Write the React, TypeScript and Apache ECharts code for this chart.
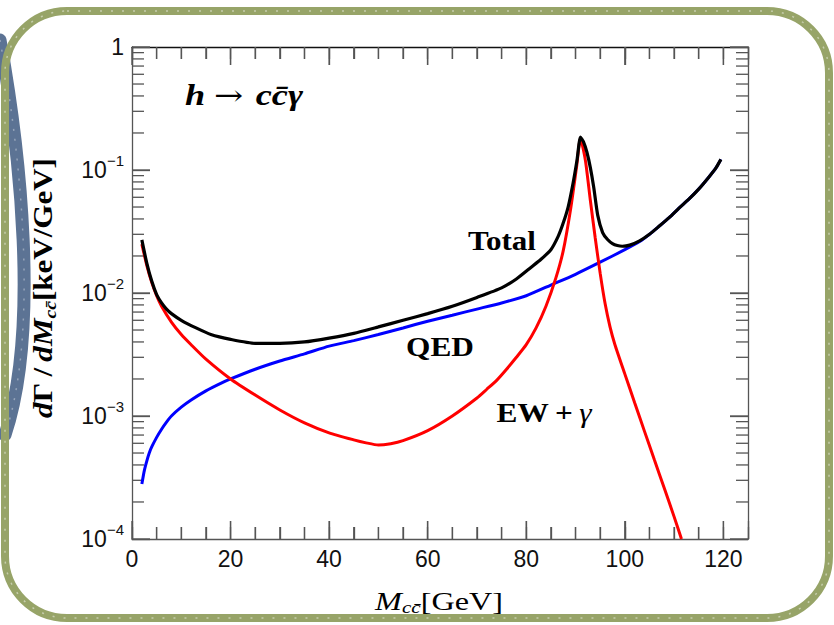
import React, { useEffect, useRef } from 'react';
import * as echarts from 'echarts';

const X_MIN = 0;
const X_MAX = 125;
const Y_MIN = 1e-4;
const Y_MAX = 1;

const xTicksMajor = [0, 20, 40, 60, 80, 100, 120];
const xTicksMinor = [5, 10, 15, 25, 30, 35, 45, 50, 55, 65, 70, 75, 85, 90, 95, 105, 110, 115];
const yTicksMajor = [1e-4, 1e-3, 1e-2, 1e-1, 1];
const yDecades = [1e-4, 1e-3, 1e-2, 1e-1];
const yMantissas = [2, 3, 4, 5, 6, 7, 8, 9];
const yTicksMinor = yDecades.flatMap((d) => yMantissas.map((m) => m * d));

// Total (black)
const totalX = [2, 3, 4, 5, 6, 7, 8, 10, 13, 16, 20, 25, 30, 35, 40, 45, 50, 55, 60, 65, 70, 75, 78, 81, 83, 85, 86.5, 87.5, 88.5, 89.5, 90.3, 91, 91.6, 92.3, 93, 93.7, 94.5, 95.5, 96.5, 97.5, 98.5, 99.5, 101, 103, 105, 107, 109, 111, 113, 115, 117, 118.5, 119.5];
const totalY = [0.027, 0.0175, 0.0125, 0.0097, 0.0083, 0.0074, 0.0068, 0.006, 0.0052, 0.0046, 0.0042, 0.0039, 0.0039, 0.0040, 0.0043, 0.0047, 0.0053, 0.006, 0.0068, 0.0078, 0.0092, 0.011, 0.013, 0.0162, 0.0188, 0.0225, 0.029, 0.037, 0.05, 0.078, 0.12, 0.185, 0.17, 0.14, 0.105, 0.072, 0.043, 0.031, 0.0272, 0.0252, 0.0243, 0.024, 0.0245, 0.0265, 0.030, 0.035, 0.041, 0.049, 0.058, 0.07, 0.087, 0.104, 0.122];

// EW + gamma (red)
const ewX = [2, 3, 4, 5, 6, 8, 10, 12, 15, 20, 25, 30, 35, 40, 45, 47.5, 50, 52.5, 55, 60, 65, 70, 72, 74, 76, 78, 80, 82, 84, 86, 87.5, 89, 90.2, 91, 92, 93, 94, 95, 96, 97, 98, 100, 102, 104, 106, 108, 110, 111.5];
const ewY = [0.025, 0.0168, 0.0122, 0.0095, 0.0078, 0.0058, 0.0046, 0.0038, 0.0029, 0.002, 0.00148, 0.00112, 0.00088, 0.00073, 0.00064, 0.000605, 0.00058, 0.000595, 0.00063, 0.00076, 0.001, 0.0014, 0.00165, 0.00195, 0.0024, 0.003, 0.0038, 0.0052, 0.0078, 0.0132, 0.022, 0.048, 0.105, 0.18, 0.12, 0.057, 0.028, 0.0145, 0.0082, 0.0053, 0.0038, 0.0022, 0.00128, 0.00075, 0.00044, 0.00026, 0.000152, 0.0001];

// QED (blue)
const qedX = [2, 2.5, 3, 3.5, 4, 5, 6, 7, 8, 10, 12, 15, 18, 20, 25, 30, 35, 40, 45, 50, 55, 60, 65, 70, 75, 80, 85, 90, 95, 100, 103, 105, 107, 109, 111, 113, 115, 117, 118.5, 119.5];
const qedY = [0.00028, 0.00036, 0.00043, 0.0005, 0.00056, 0.00067, 0.00078, 0.00089, 0.001, 0.00118, 0.00135, 0.0016, 0.00184, 0.002, 0.0024, 0.0028, 0.0032, 0.0037, 0.0041, 0.0046, 0.0052, 0.0059, 0.0066, 0.0074, 0.0083, 0.0095, 0.0116, 0.0142, 0.0178, 0.0225, 0.0262, 0.030, 0.035, 0.041, 0.049, 0.058, 0.07, 0.087, 0.104, 0.122];

const pairs = (xs: number[], ys: number[]) => xs.map((x, i) => [x, ys[i]]);

const TICK = '#555555';
const AXIS = '#555555';
const SANS = '"Liberation Sans", Arial, sans-serif';
const SERIF = '"Liberation Serif", "Times New Roman", serif';
const MAJOR = 18;
const MINOR = 12;
const GRID_W = 616;
const GRID_H = 492;
// tick lengths converted into data units along each axis
const PX_PER_X = GRID_W / (X_MAX - X_MIN);
const PX_PER_DECADE = GRID_H / Math.log10(Y_MAX / Y_MIN);

function xAxisDef(position: 'top' | 'bottom', interval: number, len: number, withLine: boolean, withLabels: boolean, lineColor: string) {
  return {
    type: 'value',
    min: X_MIN,
    max: X_MAX,
    interval,
    position,
    axisLine: { show: withLine, onZero: false, lineStyle: { color: lineColor, width: 1.3 } },
    axisTick: { show: true, inside: true, length: len, lineStyle: { color: TICK, width: 1.3 } },
    splitLine: { show: false },
    axisLabel: withLabels
      ? {
          show: true,
          margin: 8,
          fontSize: 23,
          fontFamily: SANS,
          color: '#111',
          formatter: (v: number) => (xTicksMajor.includes(v) ? String(v) : ''),
        }
      : { show: false },
  };
}

function yAxisDef(position: 'left' | 'right', withLabels: boolean) {
  return {
    type: 'log',
    logBase: 10,
    min: Y_MIN,
    max: Y_MAX,
    splitNumber: 4,
    position,
    axisLine: { show: true, onZero: false, lineStyle: { color: AXIS, width: 1.3 } },
    axisTick: { show: true, inside: true, length: MAJOR, lineStyle: { color: TICK, width: 1.3 } },
    splitLine: { show: false },
    axisLabel: withLabels
      ? {
          show: true,
          margin: 8,
          formatter: (v: number) => {
            const e = Math.round(Math.log10(v));
            return e === 0 ? '{n|1}' : `{n|10}{s|\u2212${-e}}`;
          },
          rich: {
            n: { fontSize: 23, fontFamily: SANS, color: '#111', lineHeight: 34 },
            s: { fontSize: 15, fontFamily: SANS, color: '#111', lineHeight: 16, verticalAlign: 'top' },
          },
        }
      : { show: false },
  };
}

function tickLine(seg: number[][]) {
  return {
    type: 'line',
    data: seg,
    showSymbol: false,
    silent: true,
    clip: false,
    z: 2,
    lineStyle: { color: TICK, width: 1.3 },
  };
}

function buildTickSeries() {
  const out: any[] = [];
  const xLen = (px: number) => px / PX_PER_X;
  const yFactor = (px: number) => Math.pow(10, px / PX_PER_DECADE);
  const addY = (vals: number[], len: number) =>
    vals.forEach((v) => {
      out.push(tickLine([[X_MIN, v], [X_MIN + xLen(len), v]]));
      out.push(tickLine([[X_MAX, v], [X_MAX - xLen(len), v]]));
    });
  const addX = (vals: number[], len: number) =>
    vals.forEach((v) => {
      out.push(tickLine([[v, Y_MIN], [v, Y_MIN * yFactor(len)]]));
      out.push(tickLine([[v, Y_MAX], [v, Y_MAX / yFactor(len)]]));
    });
  addY(yTicksMajor, MAJOR);
  addY(yTicksMinor, MINOR);
  addX(xTicksMajor, MAJOR);
  addX(xTicksMinor, MINOR);
  return out;
}

export default function App() {
  const ref = useRef<HTMLDivElement>(null);

  useEffect(() => {
    document.body.style.margin = '0';
    if (!ref.current) return;
    const chart = echarts.init(ref.current, null, { renderer: 'svg' });

    const curveSeries: any[] = [
      {
        name: 'QED',
        type: 'line',
        data: pairs(qedX, qedY),
        showSymbol: false,
        smooth: 0.2,
        z: 3,
        lineStyle: { color: '#0000ff', width: 3 },
      },
      {
        name: 'EW+γ',
        type: 'line',
        data: pairs(ewX, ewY),
        showSymbol: false,
        smooth: 0.2,
        z: 4,
        lineStyle: { color: '#ff0000', width: 3 },
      },
      {
        name: 'Total',
        type: 'line',
        data: pairs(totalX, totalY),
        showSymbol: false,
        smooth: 0.2,
        z: 5,
        lineStyle: { color: '#000000', width: 3.2 },
      },
    ];

    const option: any = {
      animation: false,
      backgroundColor: '#ffffff',
      grid: { left: 132, top: 47, width: GRID_W, height: GRID_H, containLabel: false },
      xAxis: [
        xAxisDef('bottom', 20, MAJOR, true, true, AXIS),
        xAxisDef('top', 20, MAJOR, true, false, '#111111'),
        xAxisDef('bottom', 5, MINOR, false, false, AXIS),
        xAxisDef('top', 5, MINOR, false, false, AXIS),
      ],
      yAxis: [yAxisDef('left', true), yAxisDef('right', false)],
      series: [...curveSeries, ...buildTickSeries()],
      graphic: [
        {
          type: 'bezierCurve',
          z: 1,
          silent: true,
          shape: { x1: 0, y1: 40, cpx1: 20, cpy1: 150, cpx2: 40, cpy2: 330, x2: 5, y2: 435 },
          style: { stroke: '#5c7394', lineWidth: 13, fill: 'none', lineCap: 'round' },
        },
        {
          type: 'bezierCurve',
          z: 1,
          silent: true,
          shape: { x1: 0, y1: 40, cpx1: 20, cpy1: 150, cpx2: 40, cpy2: 330, x2: 5, y2: 435 },
          style: { stroke: '#ffffff', lineWidth: 1.5, fill: 'none', lineDash: [2, 8], opacity: 0.35 },
        },
        {
          type: 'rect',
          z: 2,
          silent: true,
          shape: { x: 5, y: 11, width: 824, height: 607, r: 62 },
          style: { fill: 'none', stroke: '#97a468', lineWidth: 8 },
        },
        {
          type: 'rect',
          z: 3,
          silent: true,
          shape: { x: 5, y: 11, width: 824, height: 607, r: 62 },
          style: { fill: 'none', stroke: '#ffffff', lineWidth: 1.5, lineDash: [2, 9], opacity: 0.45 },
        },
        {
          type: 'text',
          z: 10,
          x: 185,
          y: 95,
          scaleX: 1.25,
          style: {
            text: '{i|h}{a|\u2192}{i|cc\u0304\u03b3}',
            textAlign: 'left',
            textVerticalAlign: 'middle',
            rich: {
              i: { fontFamily: SERIF, fontSize: 29, fontStyle: 'italic', fontWeight: 'bold', fill: '#000', lineHeight: 34 },
              a: { fontFamily: '"DejaVu Serif", serif', fontSize: 28, fill: '#000', lineHeight: 34, padding: [0, 10, 0, 7] },
            },
          },
        },
        {
          type: 'text',
          z: 10,
          x: 502,
          y: 241,
          scaleX: 1.15,
          style: { text: 'Total', fontFamily: SERIF, fontSize: 27, fontWeight: 'bold', fill: '#000', textAlign: 'center', textVerticalAlign: 'middle' },
        },
        {
          type: 'text',
          z: 10,
          x: 440,
          y: 347,
          scaleX: 1.16,
          style: { text: 'QED', fontFamily: SERIF, fontSize: 27, fontWeight: 'bold', fill: '#000', textAlign: 'center', textVerticalAlign: 'middle' },
        },
        {
          type: 'text',
          z: 10,
          x: 544,
          y: 413,
          scaleX: 1.16,
          style: {
            text: '{b|EW\u2009+\u2009}{g|\u03b3}',
            textAlign: 'center',
            textVerticalAlign: 'middle',
            rich: {
              b: { fontFamily: SERIF, fontSize: 27, fontWeight: 'bold', fill: '#000' },
              g: { fontFamily: SERIF, fontSize: 27, fontStyle: 'italic', fill: '#000' },
            },
          },
        },
        {
          type: 'text',
          z: 10,
          x: 43,
          y: 288,
          rotation: Math.PI / 2,
          scaleX: 1.15,
          style: {
            text: '{bi|d}{b|\u0393\u2009/\u2009}{bi|dM}{sub|cc\u0304}{b|[keV/GeV]}',
            textAlign: 'center',
            textVerticalAlign: 'middle',
            rich: {
              bi: { fontFamily: SERIF, fontSize: 27, fontStyle: 'italic', fontWeight: 'bold', fill: '#000', lineHeight: 32 },
              b: { fontFamily: SERIF, fontSize: 27, fontWeight: 'bold', fill: '#000', lineHeight: 32 },
              sub: { fontFamily: SERIF, fontSize: 17, fontStyle: 'italic', fontWeight: 'bold', fill: '#000', lineHeight: 18, verticalAlign: 'bottom' },
            },
          },
        },
        {
          type: 'text',
          z: 10,
          x: 439,
          y: 601,
          scaleX: 1.24,
          style: {
            text: '{i|M}{sub|cc\u0304}{r|[GeV]}',
            textAlign: 'center',
            textVerticalAlign: 'middle',
            rich: {
              i: { fontFamily: SERIF, fontSize: 26, fontStyle: 'italic', fill: '#000', lineHeight: 30 },
              r: { fontFamily: SERIF, fontSize: 26, fill: '#000', lineHeight: 30 },
              sub: { fontFamily: SERIF, fontSize: 17, fontStyle: 'italic', fill: '#000', lineHeight: 16, verticalAlign: 'bottom' },
            },
          },
        },
      ],
    };

    chart.setOption(option);
    return () => chart.dispose();
  }, []);

  return (
    <div
      ref={ref}
      style={{ position: 'fixed', left: 0, top: 0, width: 834, height: 625, background: '#fff' }}
    />
  );
}
